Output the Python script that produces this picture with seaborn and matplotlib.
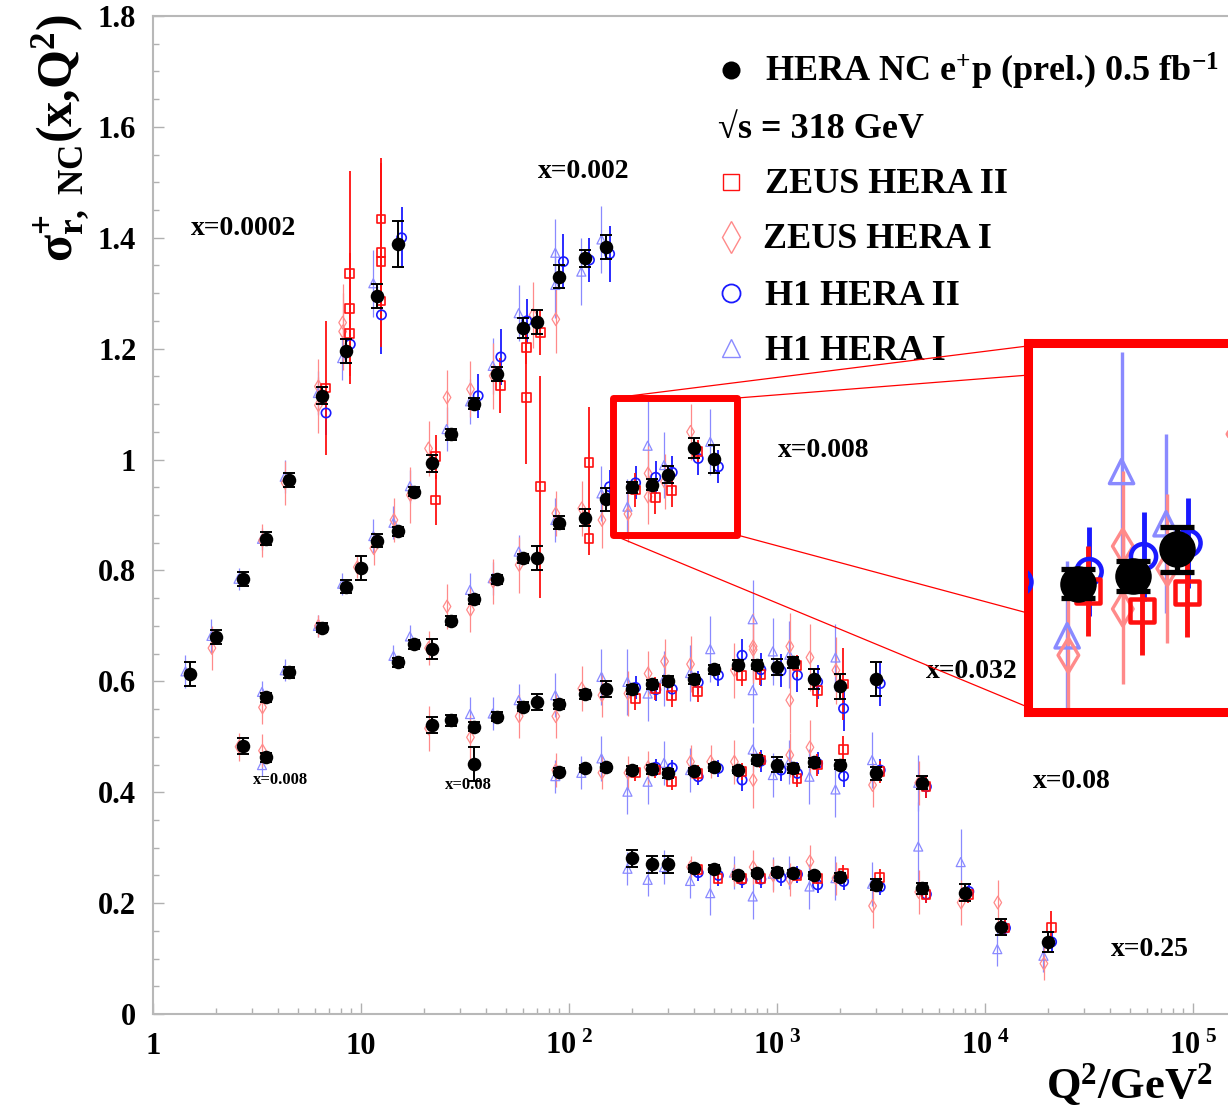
import numpy as np
import matplotlib
matplotlib.use("Agg")
import matplotlib.pyplot as plt
import seaborn as sns
from matplotlib.lines import Line2D
from matplotlib.patches import Rectangle, ConnectionPatch
from matplotlib.ticker import FixedLocator, NullFormatter, LogLocator

# ---------------- data ----------------
# Combined HERA NC e+p (prel.)
hera_q2 = [1.5, 2, 2.7, 3.5, 4.5, 6.5, 8.5, 12, 15,
           3.5, 4.5, 6.5, 8.5, 10, 12, 15, 18, 22, 27, 35, 45, 60, 70, 90, 120, 150,
           2.7, 3.5, 35,
           15, 18, 22, 27, 35, 45, 60, 70, 90, 120, 150, 200, 250, 300, 400, 500,
           22, 27, 35, 45, 60, 70, 90, 120, 150, 200, 250, 300, 400, 500, 650, 800, 1000, 1200, 1500, 2000, 3000,
           90, 120, 150, 200, 250, 300, 400, 500, 650, 800, 1000, 1200, 1500, 2000, 3000, 5000,
           200, 250, 300, 400, 500, 650, 800, 1000, 1200, 1500, 2000, 3000, 5000, 8000, 12000, 20000]
hera_sig = [0.613, 0.680, 0.785, 0.857, 0.963, 1.115, 1.196, 1.295, 1.389,
            0.571, 0.616, 0.697, 0.771, 0.804, 0.854, 0.871, 0.942, 0.993, 1.046, 1.101, 1.154, 1.237, 1.248, 1.330, 1.363, 1.383,
            0.483, 0.463, 0.451,
            0.634, 0.667, 0.658, 0.709, 0.748, 0.784, 0.822, 0.822, 0.886, 0.895, 0.928, 0.950, 0.955, 0.973, 1.020, 1.001,
            0.521, 0.530, 0.518, 0.536, 0.554, 0.563, 0.559, 0.577, 0.586, 0.586, 0.595, 0.601, 0.604, 0.622, 0.630, 0.630, 0.626, 0.634, 0.604, 0.591, 0.604,
            0.437, 0.443, 0.445, 0.440, 0.441, 0.434, 0.438, 0.445, 0.440, 0.459, 0.450, 0.443, 0.454, 0.450, 0.434, 0.417,
            0.281, 0.270, 0.270, 0.263, 0.262, 0.250, 0.254, 0.257, 0.254, 0.250, 0.247, 0.233, 0.227, 0.219, 0.157, 0.129]
hera_err = [0.022, 0.013, 0.013, 0.012, 0.012, 0.015, 0.022, 0.021, 0.041,
            0.008, 0.010, 0.008, 0.012, 0.022, 0.012, 0.008, 0.008, 0.015, 0.010, 0.010, 0.013, 0.018, 0.022, 0.020, 0.015, 0.022,
            0.014, 0.008, 0.030,
            0.008, 0.008, 0.018, 0.008, 0.008, 0.008, 0.008, 0.022, 0.012, 0.015, 0.020, 0.010, 0.010, 0.015, 0.018, 0.025,
            0.015, 0.010, 0.008, 0.008, 0.008, 0.014, 0.008, 0.008, 0.015, 0.008, 0.008, 0.008, 0.008, 0.008, 0.008, 0.008, 0.014, 0.010, 0.018, 0.022, 0.030,
            0.006, 0.006, 0.006, 0.008, 0.008, 0.008, 0.006, 0.006, 0.006, 0.008, 0.014, 0.008, 0.008, 0.008, 0.012, 0.012,
            0.015, 0.015, 0.015, 0.006, 0.006, 0.006, 0.006, 0.006, 0.006, 0.006, 0.008, 0.010, 0.010, 0.015, 0.015, 0.018]

# ZEUS HERA II
zeus2_q2 = [6.5, 8.5, 8.5, 8.5, 12, 12, 12, 12,
            22, 45, 60, 60, 70,
            22, 70, 120, 120, 200, 250, 300, 400,
            200, 250, 300, 400, 650, 800, 1200, 1500, 2000,
            200, 250, 300, 400, 650, 800, 1200, 1500, 2000, 3000, 5000,
            400, 500, 650, 800, 1200, 1500, 2000, 3000, 5000, 8000, 12000, 20000]
zeus2_sig = [1.129, 1.335, 1.272, 1.227, 1.434, 1.373, 1.357, 1.286,
             1.005, 1.134, 1.202, 1.112, 1.229,
             0.927, 0.951, 0.995, 0.857, 0.945, 0.932, 0.944, 1.015,
             0.569, 0.587, 0.574, 0.582, 0.611, 0.613, 0.628, 0.584, 0.595,
             0.435, 0.440, 0.419, 0.434, 0.437, 0.458, 0.425, 0.449, 0.477, 0.437, 0.410,
             0.260, 0.245, 0.245, 0.245, 0.250, 0.245, 0.253, 0.246, 0.215, 0.215, 0.155, 0.156]
zeus2_err = [0.12, 0.185, 0.10, 0.09, 0.10, 0.17, 0.10, 0.07,
             0.04, 0.05, 0.03, 0.12, 0.04,
             0.045, 0.20, 0.10, 0.03, 0.03, 0.03, 0.03, 0.02,
             0.02, 0.02, 0.02, 0.02, 0.02, 0.02, 0.02, 0.03, 0.065,
             0.015, 0.015, 0.015, 0.015, 0.015, 0.015, 0.015, 0.02, 0.025, 0.02, 0.02,
             0.01, 0.01, 0.01, 0.01, 0.01, 0.01, 0.015, 0.015, 0.015, 0.015, 0.015, 0.03]

# ZEUS HERA I
zeus1_q2 = [2, 3.5, 4.5, 6.5, 6.5, 8.5, 8.5,
            3.5, 6.5, 10, 12, 15, 18, 22, 27, 35, 45, 70, 90,
            2.7, 3.5,
            22, 27, 35, 45, 60, 90, 120, 150, 200, 250, 250, 300, 400,
            22, 35, 60, 90, 120, 150, 200, 250, 300, 400, 650, 800, 800, 1200, 1200, 1500, 2000,
            90, 150, 200, 250, 400, 500, 650, 800, 1200, 1500, 3000, 5000,
            400, 650, 800, 1000, 1200, 1500, 2000, 3000, 5000, 8000, 12000, 20000]
zeus1_sig = [0.660, 0.854, 0.958, 1.098, 1.132, 1.247, 1.231,
             0.553, 0.700, 0.806, 0.840, 0.891, 0.936, 1.020, 1.112, 1.127, 1.151, 1.261, 1.253,
             0.482, 0.475,
             0.660, 0.735, 0.729, 0.780, 0.810, 0.903, 0.912, 0.891, 0.902, 0.975, 0.933, 0.960, 1.050,
             0.515, 0.499, 0.537, 0.537, 0.587, 0.575, 0.578, 0.614, 0.636, 0.631, 0.620, 0.663, 0.657, 0.663, 0.566, 0.643, 0.620,
             0.440, 0.435, 0.435, 0.445, 0.455, 0.455, 0.455, 0.422, 0.467, 0.481, 0.413, 0.417,
             0.265, 0.250, 0.265, 0.250, 0.243, 0.275, 0.245, 0.195, 0.220, 0.201, 0.201, 0.091]
zeus1_err = [0.04, 0.03, 0.04, 0.05, 0.05, 0.07, 0.07,
             0.03, 0.02, 0.02, 0.03, 0.04, 0.05, 0.05, 0.05, 0.05, 0.06, 0.06, 0.06,
             0.025, 0.03,
             0.03, 0.04, 0.04, 0.04, 0.05, 0.04, 0.05, 0.05, 0.05, 0.05, 0.05, 0.05, 0.05,
             0.04, 0.04, 0.04, 0.04, 0.04, 0.04, 0.04, 0.04, 0.04, 0.05, 0.05, 0.06, 0.06, 0.06, 0.06, 0.06, 0.06,
             0.03, 0.03, 0.03, 0.03, 0.03, 0.03, 0.04, 0.05, 0.04, 0.05, 0.04, 0.04,
             0.02, 0.02, 0.03, 0.03, 0.03, 0.03, 0.03, 0.04, 0.04, 0.04, 0.04, 0.03]

# H1 HERA II
h12_q2 = [6.5, 8.5, 12, 15,
          35, 45, 60, 90, 120, 150,
          150, 200, 250, 300, 400, 500,
          200, 250, 300, 400, 500, 650, 800, 1000, 1200, 1500, 2000, 3000,
          250, 300, 400, 500, 650, 800, 1000, 1200, 1500, 2000, 3000, 5000,
          400, 500, 650, 800, 1000, 1200, 1500, 2000, 3000, 5000, 8000, 12000, 20000]
h12_sig = [1.084, 1.208, 1.261, 1.400,
           1.115, 1.185, 1.250, 1.357, 1.360, 1.371,
           0.951, 0.958, 0.968, 0.977, 1.002, 0.987,
           0.589, 0.585, 0.586, 0.598, 0.611, 0.647, 0.621, 0.619, 0.611, 0.599, 0.551, 0.596,
           0.445, 0.444, 0.428, 0.443, 0.422, 0.456, 0.440, 0.434, 0.452, 0.429, 0.440, 0.410,
           0.255, 0.250, 0.242, 0.243, 0.246, 0.252, 0.233, 0.239, 0.229, 0.216, 0.221, 0.155, 0.130]
h12_err = [0.04, 0.03, 0.07, 0.055,
           0.04, 0.05, 0.04, 0.05, 0.04, 0.05,
           0.03, 0.03, 0.03, 0.03, 0.03, 0.03,
           0.02, 0.02, 0.02, 0.02, 0.02, 0.03, 0.03, 0.03, 0.03, 0.03, 0.04, 0.04,
           0.015, 0.015, 0.015, 0.015, 0.02, 0.02, 0.02, 0.02, 0.02, 0.02, 0.02, 0.02,
           0.015, 0.02, 0.015, 0.015, 0.015, 0.015, 0.015, 0.015, 0.015, 0.015, 0.015, 0.015, 0.02]

# H1 HERA I
h11_q2 = [1.5, 2, 2.7, 3.5, 4.5, 6.5, 8.5, 12,
          3.5, 4.5, 6.5, 8.5, 12, 15, 18, 27, 35, 45, 60, 90, 90, 120, 150,
          3.5,
          15, 18, 35, 45, 60, 90, 150, 200, 250, 300, 500,
          35, 45, 60, 90, 150, 200, 250, 300, 400, 500, 800, 800, 1000, 1200, 2000,
          90, 120, 150, 200, 250, 300, 400, 800, 1000, 1200, 1500, 2000, 3000, 5000,
          200, 250, 300, 400, 500, 650, 800, 1000, 1200, 1500, 2000, 3000, 5000, 8000, 12000, 20000]
h11_sig = [0.618, 0.682, 0.785, 0.857, 0.969, 1.120, 1.183, 1.318,
           0.581, 0.620, 0.700, 0.776, 0.862, 0.886, 0.952, 1.055, 1.105, 1.169, 1.264, 1.373, 1.315, 1.339, 1.397,
           0.449,
           0.646, 0.681, 0.765, 0.786, 0.834, 0.891, 0.939, 0.915, 1.025, 0.990, 1.032,
           0.541, 0.542, 0.566, 0.575, 0.608, 0.599, 0.578, 0.605, 0.615, 0.658, 0.712, 0.584, 0.654, 0.648, 0.643,
           0.429, 0.435, 0.461, 0.401, 0.419, 0.453, 0.440, 0.477, 0.431, 0.455, 0.428, 0.405, 0.458, 0.417,
           0.262, 0.242, 0.265, 0.240, 0.218, 0.255, 0.212, 0.253, 0.255, 0.230, 0.245, 0.235, 0.302, 0.274, 0.117, 0.105]
h11_err = [0.03, 0.03, 0.02, 0.02, 0.03, 0.04, 0.04, 0.06,
           0.02, 0.02, 0.02, 0.02, 0.03, 0.03, 0.03, 0.04, 0.04, 0.05, 0.05, 0.06, 0.06, 0.06, 0.06,
           0.02,
           0.02, 0.02, 0.03, 0.03, 0.03, 0.04, 0.05, 0.05, 0.08, 0.06, 0.06,
           0.03, 0.03, 0.03, 0.04, 0.05, 0.06, 0.05, 0.05, 0.05, 0.06, 0.07, 0.06, 0.06, 0.06, 0.06,
           0.03, 0.03, 0.04, 0.04, 0.04, 0.04, 0.04, 0.04, 0.04, 0.04, 0.05, 0.05, 0.05, 0.05,
           0.03, 0.03, 0.03, 0.03, 0.04, 0.03, 0.04, 0.03, 0.03, 0.04, 0.04, 0.04, 0.08, 0.06, 0.03, 0.03]

bin_labels = ["x=0.0002", "x=0.002", "x=0.008", "x=0.032", "x=0.08", "x=0.25"]
bin_label_q2 = [2.74, 118, 1683, 8660, 26200, 62100]
bin_label_sig = [1.416, 1.519, 1.017, 0.617, 0.419, 0.117]
small_labels = ["x=0.008", "x=0.08"]
small_label_q2 = [4.12, 32.7]
small_label_sig = [0.422, 0.413]

legend_labels = [r"HERA NC e$^{+}$p (prel.) 0.5 fb$^{-1}$", "\u221as = 318 GeV",
                 "ZEUS HERA II", "ZEUS HERA I", "H1 HERA II", "H1 HERA I"]
y_ticks = [0, 0.2, 0.4, 0.6, 0.8, 1.0, 1.2, 1.4, 1.6, 1.8]
y_tick_labels = ["0", "0.2", "0.4", "0.6", "0.8", "1", "1.2", "1.4", "1.6", "1.8"]
x_ticks = [1, 10, 100, 1000, 10000, 100000]
x_tick_labels = ["1", "10", r"$10^{\ 2}$", r"$10^{\ 3}$", r"$10^{\ 4}$", r"$10^{\ 5}$"]

datasets = {
    "h11": (h11_q2, h11_sig, h11_err),
    "zeus1": (zeus1_q2, zeus1_sig, zeus1_err),
    "h12": (h12_q2, h12_sig, h12_err),
    "zeus2": (zeus2_q2, zeus2_sig, zeus2_err),
}
for k_, (a_, b_, c_) in datasets.items():
    assert len(a_) == len(b_) == len(c_), k_
assert len(hera_q2) == len(hera_sig) == len(hera_err)

# ---------------- style ----------------
sns.set_theme(style="ticks")
plt.rcParams.update({
    "font.family": ["Liberation Serif", "DejaVu Serif"],
    "font.weight": "bold",
    "mathtext.fontset": "custom",
    "mathtext.default": "regular",
    "mathtext.rm": "Liberation Serif:bold",
    "mathtext.bf": "Liberation Serif:bold",
    "mathtext.it": "Liberation Serif:bold",
    "text.color": "black",
})

RED = "#ff1010"
LRED = "#ff8a8a"
BLUE = "#1a1aff"
LBLUE = "#8a8aff"

styles = {
    "h11": dict(marker="^", color=LBLUE, s=42, mlw=0.9, elw=0.9, off=0.955, z=2),
    "zeus1": dict(marker="d", color=LRED, s=42, mlw=0.9, elw=0.9, off=0.96, z=2),
    "h12": dict(marker="o", color=BLUE, s=45, mlw=1.2, elw=1.3, off=1.045, z=3),
    "zeus2": dict(marker="s", color=RED, s=40, mlw=1.2, elw=1.3, off=1.04, z=3),
}

W, H = 1228, 1109
fig = plt.figure(figsize=(W / 100, H / 100), dpi=100)


def fx(px):
    return px / W


def fy(py):
    return 1 - py / H


def draw(a, k):
    for key, (q, s, e) in datasets.items():
        st = styles[key]
        qq = np.asarray(q, dtype=float) * st["off"]
        a.errorbar(qq, s, yerr=e, fmt="none", ecolor=st["color"],
                   elinewidth=st["elw"] * k, zorder=st["z"])
        sns.scatterplot(x=qq, y=np.asarray(s), ax=a, marker=st["marker"],
                        s=st["s"] * k * k, facecolor="none", edgecolor=st["color"],
                        linewidth=st["mlw"] * k, zorder=st["z"] + 0.5, legend=False)
    a.errorbar(hera_q2, hera_sig, yerr=hera_err, fmt="none", ecolor="black",
               elinewidth=1.4 * k, capsize=4.5 * k, capthick=1.4 * k, zorder=6)
    sns.scatterplot(x=np.asarray(hera_q2, dtype=float), y=np.asarray(hera_sig), ax=a,
                    marker="o", s=95 * k * k, color="black", linewidth=0,
                    zorder=7, legend=False)


# ---------------- main axes ----------------
ax = fig.add_axes([fx(153), fy(1014), (5.25 * 208) / W, (1014 - 16) / H])
ax.set_xscale("log")
draw(ax, 1.0)
ax.set_xlim(1, 10 ** 5.25)
ax.set_ylim(0, 1.8)

ax.set_yticks(y_ticks)
ax.set_yticklabels(y_tick_labels)
ax.yaxis.set_minor_locator(FixedLocator(np.arange(0, 1.8001, 0.05)))
ax.set_xticks(x_ticks)
ax.set_xticklabels(x_tick_labels)
ax.xaxis.set_minor_locator(LogLocator(base=10, subs=np.arange(2, 10), numticks=20))
ax.xaxis.set_minor_formatter(NullFormatter())
ax.tick_params(which="both", direction="in", color="#b0b0b0", labelsize=22,
               top=False, right=False, labelcolor="black")
ax.tick_params(which="major", length=8, width=1.0)
ax.tick_params(which="minor", length=4, width=1.0)
ax.tick_params(axis="y", pad=12)
ax.tick_params(axis="x", pad=13)
for side in ["left", "bottom", "top"]:
    ax.spines[side].set_color("#b8b8b8")
    ax.spines[side].set_linewidth(1.5)
ax.spines["right"].set_visible(False)
ax.set_xlabel("")
ax.set_ylabel("")

for t, q, s in zip(bin_labels, bin_label_q2, bin_label_sig):
    ax.text(q, s, t, fontsize=20, ha="center", va="center", zorder=8)
for t, q, s in zip(small_labels, small_label_q2, small_label_sig):
    ax.text(q, s, t, fontsize=12, ha="center", va="center", zorder=8)

# zoom box
box_q2 = (162.7, 642.4)
box_sig = (0.864, 1.111)
rect = Rectangle((box_q2[0], box_sig[0]), box_q2[1] - box_q2[0], box_sig[1] - box_sig[0],
                 fill=False, ec="red", lw=5, joinstyle="round", zorder=12)
ax.add_patch(rect)

# ---------------- inset ----------------
axin = fig.add_axes([fx(1028), fy(712), 335 / W, 369 / H])
axin.set_xscale("log")
draw(axin, 2.7)
axin.set_xlim(box_q2)
axin.set_ylim(box_sig)
axin.set_facecolor("white")
axin.xaxis.set_minor_locator(matplotlib.ticker.NullLocator())
axin.set_xticks([])
axin.set_yticks([])
axin.set_xlabel("")
axin.set_ylabel("")
for sp in axin.spines.values():
    sp.set_color("red")
    sp.set_linewidth(6.5)
    sp.set_joinstyle("round")

for (qa, sa), fb in [((box_q2[0], box_sig[1]), 0.992), ((box_q2[1], box_sig[1]), 0.913),
                     ((box_q2[1], box_sig[0]), 0.268), ((box_q2[0], box_sig[0]), 0.013)]:
    cp = ConnectionPatch(xyA=(qa, sa), coordsA=ax.transData, xyB=(0, fb),
                         coordsB=axin.transAxes, color="red", lw=0.9, zorder=11)
    fig.add_artist(cp)

# ---------------- legend ----------------
leg_marker_y = [70, 182, 237, 293, 348]
leg_handles = [dict(marker="o", ms=13, mfc="black", mec="black", mew=0),
               dict(marker="s", ms=12, mfc="none", mec=RED, mew=1.0),
               dict(marker="d", ms=16, mfc="none", mec=LRED, mew=1.0),
               dict(marker="o", ms=13, mfc="none", mec=BLUE, mew=1.3),
               dict(marker="^", ms=13, mfc="none", mec=LBLUE, mew=1.0)]
for y, h in zip(leg_marker_y, leg_handles):
    fig.add_artist(Line2D([fx(731)], [fy(y)], transform=fig.transFigure, ls="none", **h))
leg_base = [82, 138, 193, 248, 305, 360]
leg_x = [765, 718, 765, 763, 765, 765]
for t, x, y in zip(legend_labels, leg_x, leg_base):
    fig.text(fx(x), fy(y), t, fontsize=26, ha="left", va="baseline")

# axis titles
fig.text(fx(62), fy(14), r"$\sigma^{+}_{r,\ NC}(x{,}Q^{2})$", rotation=90,
         ha="center", va="top", fontsize=36)
fig.text(fx(1046), fy(1108), r"$Q^{2}/GeV^{2}$", ha="left", va="bottom", fontsize=32)

fig.savefig("out.png", dpi=100)
